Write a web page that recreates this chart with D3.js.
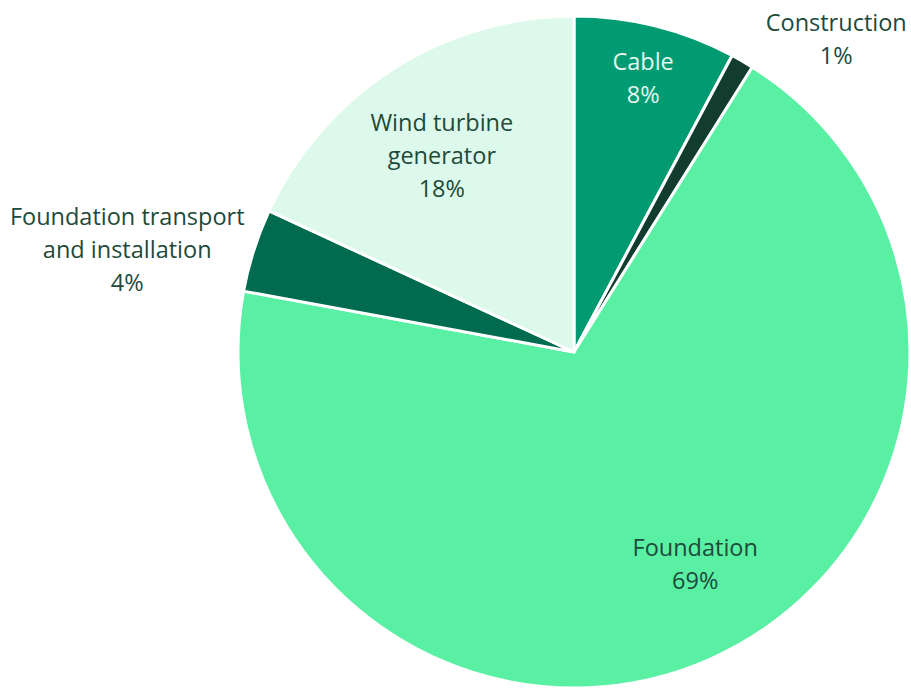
<!DOCTYPE html>
<html><head><meta charset="utf-8">
<script src="https://cdn.jsdelivr.net/npm/d3@7"></script>
<style>body{margin:0;background:#fff}svg{display:block}</style>
</head><body>
<svg id="c" width="911" height="690"></svg>
<script>
const categories = ["Cable","Construction","Foundation","Foundation transport and installation","Wind turbine generator"];
const values = [7.8, 1.1, 69.0, 4.0, 18.1];
const percentLabels = ["8%","1%","69%","4%","18%"];
const labelLines = [["Cable"],["Construction"],["Foundation"],["Foundation transport","and installation"],["Wind turbine","generator"]];
const colors = ["#009b72","#123d2e","#5af0a4","#006b4f","#dcf9ec"];
const textColors = ["#e6f7ef","#1e4a3a","#1e4a3a","#1e4a3a","#1e4a3a"];

const W=911,H=690, cx=574, cy=352, R=336;
const svg=d3.select("#c");
const g=svg.append("g").attr("transform",`translate(${cx},${cy})`);
const data=categories.map((c,i)=>({c,v:values[i],i}));
const pie=d3.pie().value(d=>d.v).sort(null);
const arcs=pie(data);
const arc=d3.arc().innerRadius(0).outerRadius(R);
g.selectAll("path").data(arcs).join("path")
 .attr("d",arc).attr("fill",d=>colors[d.data.i])
 .attr("stroke","#fff").attr("stroke-width",3).attr("stroke-linejoin","round");

// label placement: [radius, angle offset (deg) from slice centroid angle]
const place=[[285,0],[410,9.7],[242,-6.3],[459,-4.4],[239,-1]];
const fs=23.5, lh=33;
arcs.forEach((a,k)=>{
  const i=a.data.i;
  const ang=(a.startAngle+a.endAngle)/2 + place[i][1]*Math.PI/180;
  const x=Math.sin(ang)*place[i][0], y=-Math.cos(ang)*place[i][0];
  const lines=[...labelLines[i], percentLabels[i]];
  const t=g.append("text").attr("text-anchor","middle")
   .attr("font-family","'Open Sans', sans-serif").attr("font-size",fs)
   .attr("fill",textColors[i]);
  const y0=y-(lines.length-1)*lh/2;
  lines.forEach((l,j)=>t.append("tspan").attr("x",x).attr("y",y0+j*lh).attr("dy","0.46em").text(l));
});
</script></body></html>
